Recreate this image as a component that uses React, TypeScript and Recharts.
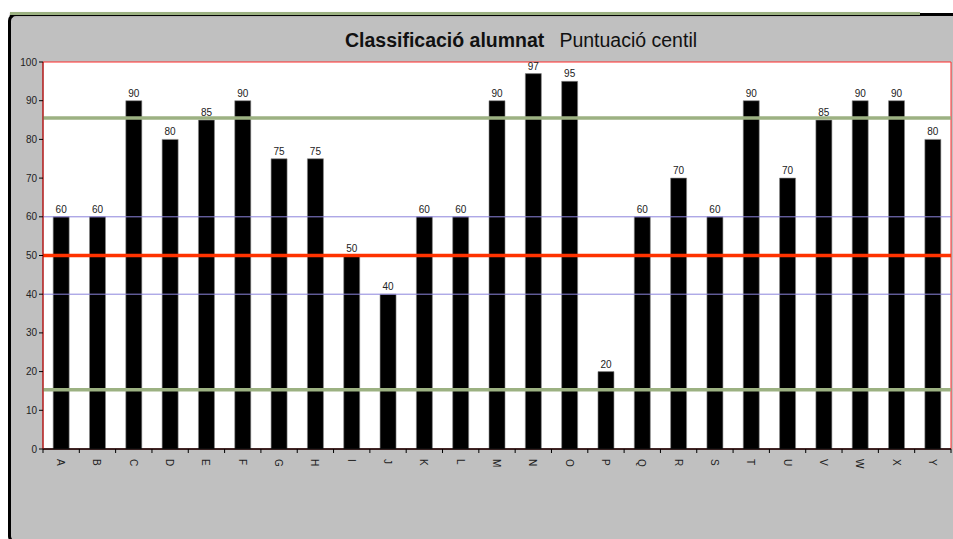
import React from "react";
import {
  BarChart,
  Bar,
  XAxis,
  YAxis,
  LabelList,
  ReferenceLine,
  ReferenceArea,
} from "recharts";

const alumnes = [
  "A", "B", "C", "D", "E", "F", "G", "H", "I", "J", "K", "L", "M",
  "N", "O", "P", "Q", "R", "S", "T", "U", "V", "W", "X", "Y",
];
const centils = [
  60, 60, 90, 80, 85, 90, 75, 75, 50, 40, 60, 60, 90,
  97, 95, 20, 60, 70, 60, 90, 70, 85, 90, 90, 80,
];
const yTicks = [0, 10, 20, 30, 40, 50, 60, 70, 80, 90, 100];
const gridValues = [40, 60];
const mitjana = 50;
const limitSuperior = 85.5;
const limitInferior = 15.3;

const data = alumnes.map((nom, i) => ({ nom, centil: centils[i] }));

const font = "Arial, 'Liberation Sans', sans-serif";

function LletraTick(props: any) {
  const { x, y, payload, index } = props;
  const off = payload.offset || 0;
  const last = index === alumnes.length - 1;
  return (
    <g>
      <line x1={x - off} y1={y - 8} x2={x - off} y2={y - 4} stroke="#000" />
      {last && <line x1={x + off} y1={y - 8} x2={x + off} y2={y - 4} stroke="#000" />}
      <text
        x={0}
        y={0}
        transform={`translate(${x - 4},${y + 2}) rotate(90)`}
        fontSize={10}
        fontFamily={font}
        fill="#222"
      >
        {payload.value}
      </text>
    </g>
  );
}

export default function App() {
  return (
    <div style={{ position: "absolute", left: 0, top: 0, width: 953, height: 539, overflow: "hidden", background: "#fff" }}>
      <div
        style={{
          position: "absolute",
          left: 8,
          top: 13,
          width: 980,
          height: 525,
          background: "#c0c0c0",
          borderLeft: "3px solid #000",
          borderTop: "3px solid #000",
          borderBottom: "3px solid #000",
          borderRadius: "8px 0 0 8px",
        }}
      />
      <div
        style={{
          position: "absolute",
          left: 10,
          top: 12,
          width: 910,
          height: 3,
          background: "#9cb182",
          boxShadow: "0 1px 2px rgba(0,0,0,0.3)",
        }}
      />
      <div
        style={{
          position: "absolute",
          left: 0,
          top: 29,
          width: 1042,
          textAlign: "center",
          fontFamily: font,
          fontSize: 19.5,
          lineHeight: "22px",
          color: "#111",
          whiteSpace: "nowrap",
        }}
      >
        <span style={{ fontWeight: "bold" }}>Classificació alumnat</span>
        <span style={{ marginLeft: 15 }}>Puntuació centil</span>
      </div>
      <div style={{ position: "absolute", left: 0, top: 0 }}>
        <BarChart
          width={953}
          height={539}
          data={data}
          margin={{ top: 62, right: 2, bottom: 60, left: 0 }}
          barCategoryGap="28%"
        >
          <ReferenceArea
            y1={0}
            y2={100}
            fill="#fff"
            fillOpacity={1}
            stroke="#ff2a2a"
            strokeWidth={1}
            isFront={false}
          />
          {gridValues.map((v) => (
            <ReferenceLine key={v} y={v} stroke="#8c84dc" strokeWidth={1} />
          ))}
          <XAxis
            dataKey="nom"
            height={30}
            interval={0}
            tickLine={false}
            axisLine={{ stroke: "#000", strokeWidth: 1.5 }}
            tick={<LletraTick />}
          />
          <YAxis
            domain={[0, 100]}
            ticks={yTicks}
            width={43}
            interval={0}
            axisLine={{ stroke: "#8b1010" }}
            tickLine={{ stroke: "#000" }}
            tickSize={4}
            tick={{ fontSize: 10, fill: "#222", fontFamily: font }}
          />
          <Bar dataKey="centil" fill="#000" stroke="#888" strokeWidth={0.6} isAnimationActive={false}>
            <LabelList dataKey="centil" position="top" offset={4} fontSize={10} fill="#222" fontFamily={font} />
          </Bar>
          <ReferenceLine y={mitjana} stroke="#ff3300" strokeWidth={3.5} ifOverflow="visible" />
          <ReferenceLine y={limitSuperior} stroke="#9cb182" strokeWidth={3.5} ifOverflow="visible" />
          <ReferenceLine y={limitInferior} stroke="#9cb182" strokeWidth={3.5} ifOverflow="visible" />
        </BarChart>
      </div>
    </div>
  );
}
